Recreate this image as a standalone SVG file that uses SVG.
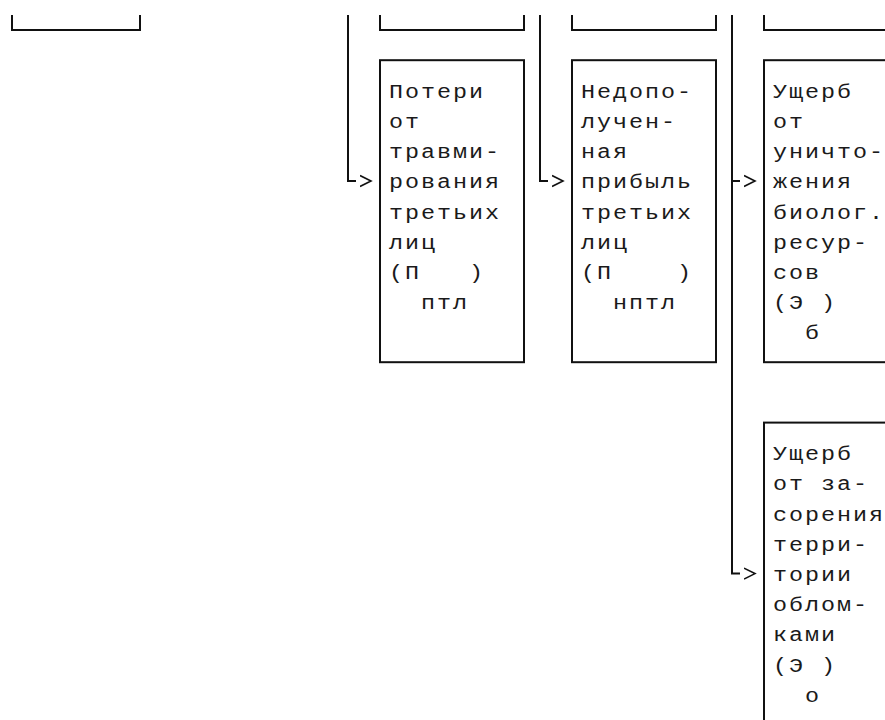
<svg xmlns="http://www.w3.org/2000/svg" width="885" height="720" viewBox="0 0 885 720" xml:space="preserve">
<style>
  .bx { fill: none; stroke: #111; stroke-width: 2; }
  .cn { fill: none; stroke: #111; stroke-width: 2; }
  .t { font-family: "Liberation Mono", "Courier New", monospace; font-size: 19.5px; letter-spacing: 1.633px; fill: #1a1a1a; white-space: pre; }
</style>
<defs>
  <marker id="chev" viewBox="0 0 16 14" markerWidth="16" markerHeight="14" refX="-4" refY="7" orient="auto" markerUnits="userSpaceOnUse">
    <path d="M0 1.5 L11 7 L0 12.5" fill="none" stroke="#111" stroke-width="1.6"/>
  </marker>
</defs>
<rect width="885" height="720" fill="#fff"/>

<g id="connectors">
  <path class="cn" d="M348 15 V181 H356" marker-end="url(#chev)"/>
  <path class="cn" d="M540 15 V181 H548" marker-end="url(#chev)"/>
  <path class="cn" d="M732 15 V573.6 H740" marker-end="url(#chev)"/>
  <path class="cn" d="M732 181 H740" marker-end="url(#chev)"/>
</g>

<g id="node-top-left">
  <path class="bx" d="M12 15 V30 H140 V15"/>
</g>
<g id="node-top-1">
  <path class="bx" d="M380 15 V30 H524 V15"/>
</g>
<g id="node-top-2">
  <path class="bx" d="M572 15 V30 H716 V15"/>
</g>
<g id="node-top-3">
  <path class="bx" d="M764 15 V30 H886"/>
</g>

<g id="node-ptl">
  <rect class="bx" x="380" y="60.2" width="144" height="302"/>
  <text class="t" transform="translate(389 97.7) scale(1.2 1)">Потери</text>
  <text class="t" transform="translate(389 127.9) scale(1.2 1)">от</text>
  <text class="t" transform="translate(389 158.1) scale(1.2 1)">травми-</text>
  <text class="t" transform="translate(389 188.3) scale(1.2 1)">рования</text>
  <text class="t" transform="translate(389 218.5) scale(1.2 1)">третьих</text>
  <text class="t" transform="translate(389 248.7) scale(1.2 1)">лиц</text>
  <text class="t" transform="translate(389 278.9) scale(1.2 1)">(П   )</text>
  <text class="t" transform="translate(421 309.1) scale(1.2 1)">птл</text>
</g>

<g id="node-nptl">
  <rect class="bx" x="572" y="60.2" width="144" height="302"/>
  <text class="t" transform="translate(581 97.7) scale(1.2 1)">Недопо-</text>
  <text class="t" transform="translate(581 127.9) scale(1.2 1)">лучен-</text>
  <text class="t" transform="translate(581 158.1) scale(1.2 1)">ная</text>
  <text class="t" transform="translate(581 188.3) scale(1.2 1)">прибыль</text>
  <text class="t" transform="translate(581 218.5) scale(1.2 1)">третьих</text>
  <text class="t" transform="translate(581 248.7) scale(1.2 1)">лиц</text>
  <text class="t" transform="translate(581 278.9) scale(1.2 1)">(П    )</text>
  <text class="t" transform="translate(613 309.1) scale(1.2 1)">нптл</text>
</g>

<g id="node-eb">
  <rect class="bx" x="764" y="60.2" width="144" height="302"/>
  <text class="t" transform="translate(773 97.7) scale(1.2 1)">Ущерб</text>
  <text class="t" transform="translate(773 127.9) scale(1.2 1)">от</text>
  <text class="t" transform="translate(773 158.1) scale(1.2 1)">уничто-</text>
  <text class="t" transform="translate(773 188.3) scale(1.2 1)">жения</text>
  <text class="t" transform="translate(773 218.5) scale(1.2 1)">биолог.</text>
  <text class="t" transform="translate(773 248.7) scale(1.2 1)">ресур-</text>
  <text class="t" transform="translate(773 278.9) scale(1.2 1)">сов</text>
  <text class="t" transform="translate(773 309.1) scale(1.2 1)">(Э )</text>
  <text class="t" transform="translate(805 339.3) scale(1.2 1)">б</text>
</g>

<g id="node-eo">
  <rect class="bx" x="764" y="422.6" width="144" height="320"/>
  <text class="t" transform="translate(773 460.1) scale(1.2 1)">Ущерб</text>
  <text class="t" transform="translate(773 490.3) scale(1.2 1)">от за-</text>
  <text class="t" transform="translate(773 520.5) scale(1.2 1)">сорения</text>
  <text class="t" transform="translate(773 550.7) scale(1.2 1)">терри-</text>
  <text class="t" transform="translate(773 580.9) scale(1.2 1)">тории</text>
  <text class="t" transform="translate(773 611.1) scale(1.2 1)">облом-</text>
  <text class="t" transform="translate(773 641.3) scale(1.2 1)">ками</text>
  <text class="t" transform="translate(773 671.5) scale(1.2 1)">(Э )</text>
  <text class="t" transform="translate(805 701.7) scale(1.2 1)">о</text>
</g>
</svg>
